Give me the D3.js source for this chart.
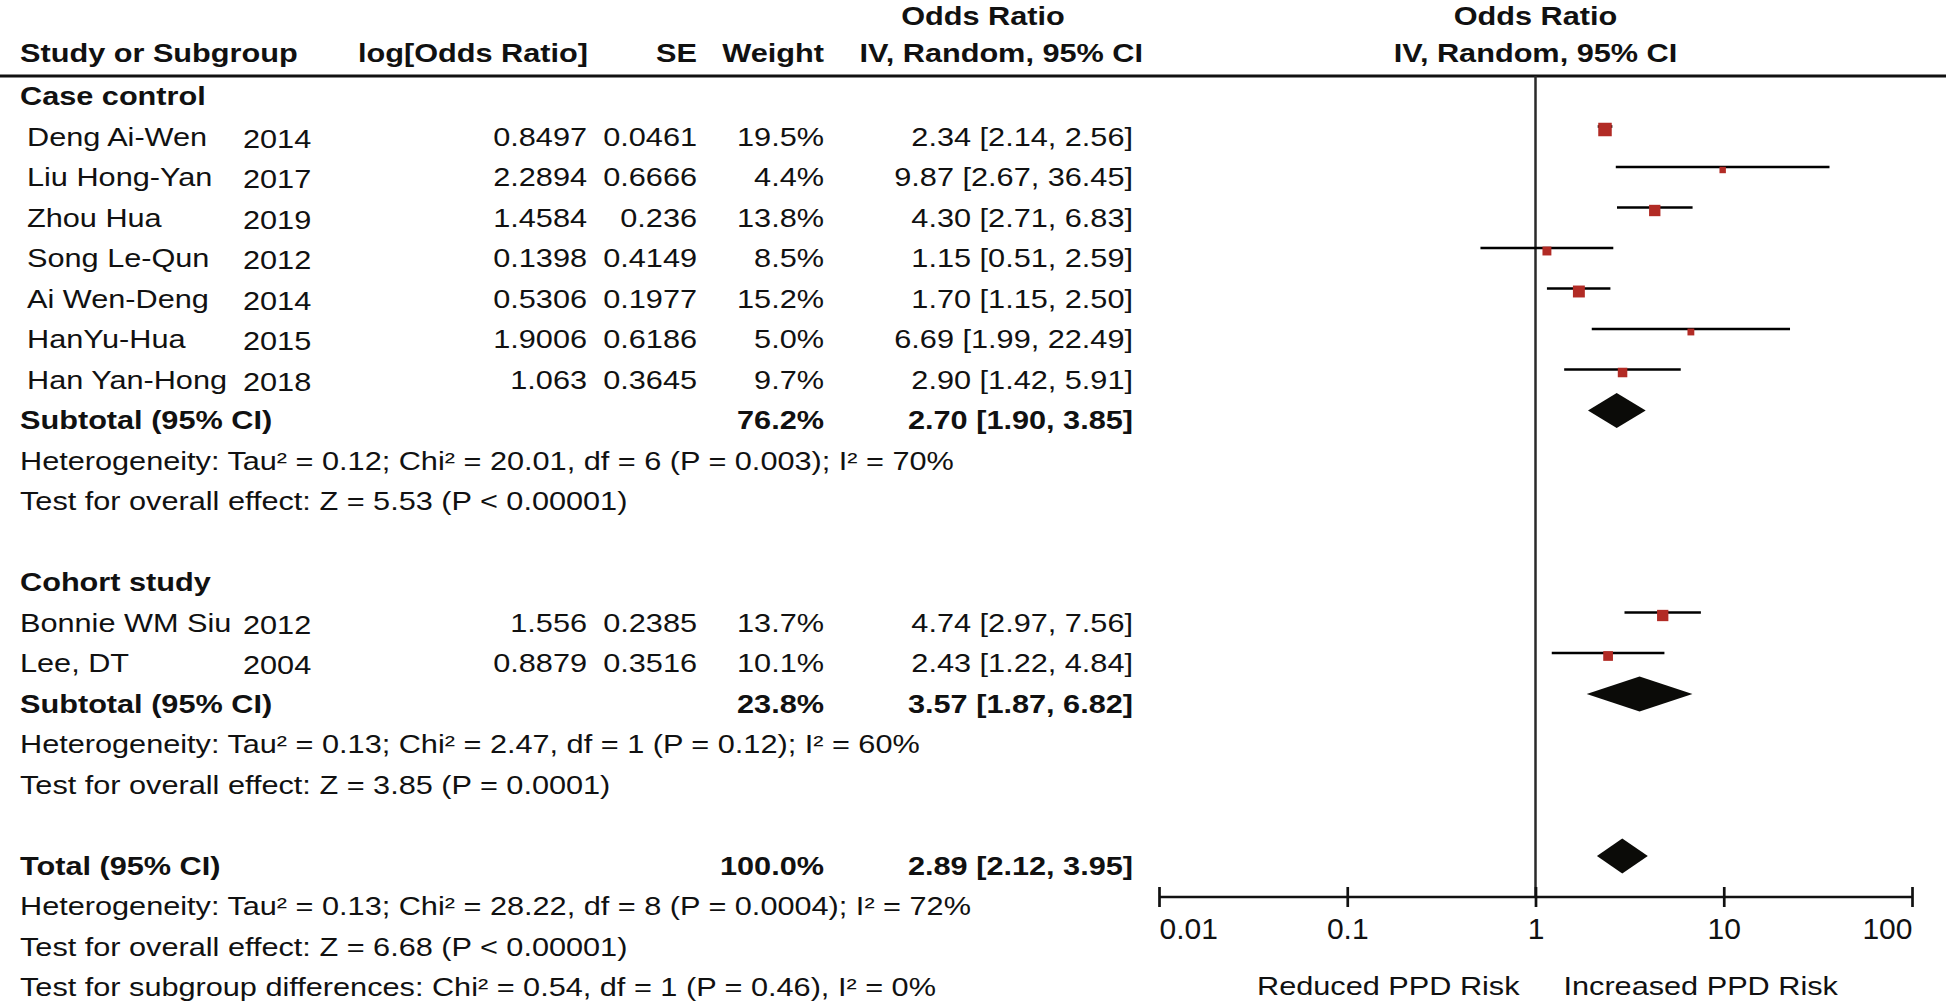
<!DOCTYPE html>
<html lang="en">
<head>
  <meta charset="utf-8">
  <script src="https://d3js.org/d3.v7.min.js"></script>
  <style>
    body {
      margin: 0;
      background: white;
    }

    text {
      font-family: "Liberation Sans", Arial, sans-serif;
      fill: #111;
    }

    .bold {
      font-weight: bold;
    }

    .axis text {
      font-size: 30px;
      fill: #111;
    }

    .axis path,
    .axis line {
      stroke: #111;
      stroke-width: 2.7;
    }
  </style>
</head>
<body>
<div id="forest"></div>
<script>
  var studies = ["Deng Ai-Wen", "Liu Hong-Yan", "Zhou Hua", "Song Le-Qun", "Ai Wen-Deng", "HanYu-Hua", "Han Yan-Hong", "Bonnie WM Siu", "Lee, DT"];
  var years = ["2014", "2017", "2019", "2012", "2014", "2015", "2018", "2012", "2004"];
  var groupOf = ["Case control", "Case control", "Case control", "Case control", "Case control", "Case control", "Case control", "Cohort study", "Cohort study"];
  var logOR = ["0.8497", "2.2894", "1.4584", "0.1398", "0.5306", "1.9006", "1.063", "1.556", "0.8879"];
  var se = ["0.0461", "0.6666", "0.236", "0.4149", "0.1977", "0.6186", "0.3645", "0.2385", "0.3516"];
  var weights = [19.5, 4.4, 13.8, 8.5, 15.2, 5.0, 9.7, 13.7, 10.1];
  var oddsRatio = [2.34, 9.87, 4.30, 1.15, 1.70, 6.69, 2.90, 4.74, 2.43];
  var lower = [2.14, 2.67, 2.71, 0.51, 1.15, 1.99, 1.42, 2.97, 1.22];
  var upper = [2.56, 36.45, 6.83, 2.59, 2.50, 22.49, 5.91, 7.56, 4.84];

  var groups = ["Case control", "Cohort study"];
  var subWeight = [76.2, 23.8];
  var subOR = [2.70, 3.57];
  var subLower = [1.90, 1.87];
  var subUpper = [3.85, 6.82];
  var subHet = ["Heterogeneity: Tau² = 0.12; Chi² = 20.01, df = 6 (P = 0.003); I² = 70%",
                "Heterogeneity: Tau² = 0.13; Chi² = 2.47, df = 1 (P = 0.12); I² = 60%"];
  var subTest = ["Test for overall effect: Z = 5.53 (P < 0.00001)",
                 "Test for overall effect: Z = 3.85 (P = 0.0001)"];

  var totalWeight = 100.0, totalOR = 2.89, totalLower = 2.12, totalUpper = 3.95;
  var totalNotes = ["Heterogeneity: Tau² = 0.13; Chi² = 28.22, df = 8 (P = 0.0004); I² = 72%",
                    "Test for overall effect: Z = 6.68 (P < 0.00001)",
                    "Test for subgroup differences: Chi² = 0.54, df = 1 (P = 0.46), I² = 0%"];

  var axisTicks = [0.01, 0.1, 1, 10, 100];
  var leftLabel = "Reduced PPD Risk", rightLabel = "Increased PPD Risk";

  var width = 1946, height = 1006;
  var SX = 1.18;      // the figure's lettering is a little wide
  var fs = 26;

  var svg = d3.select("#forest").append("svg")
          .attr("width", width)
          .attr("height", height)
          .style("background-color", "white");

  var x = d3.scaleLog().domain([0.01, 100]).range([1159, 1912]);
  var rowY = d3.scaleLinear().domain([0, 22]).range([105, 996]);
  var box = d3.scaleSqrt().domain([0, 19.5]).range([0, 13.5]);
  var f2 = d3.format(".2f"), f1 = d3.format(".1f");

  function ciText(o, l, u) {
    return f2(o) + " [" + f2(l) + ", " + f2(u) + "]";
  }

  function txt(px, py, str, anchor, bold) {
    return svg.append("text")
            .attr("transform", "translate(" + px + "," + py + ") scale(" + SX + ",1)")
            .attr("text-anchor", anchor || "start")
            .attr("class", bold ? "bold" : null)
            .style("font-size", fs + "px")
            .text(str);
  }

  // header
  txt(983, 25, "Odds Ratio", "middle", true);
  txt(x(1), 25, "Odds Ratio", "middle", true);
  txt(20, 62, "Study or Subgroup", "start", true);
  txt(588, 62, "log[Odds Ratio]", "end", true);
  txt(697, 62, "SE", "end", true);
  txt(824, 62, "Weight", "end", true);
  txt(1143, 62, "IV, Random, 95% CI", "end", true);
  txt(x(1), 62, "IV, Random, 95% CI", "middle", true);

  svg.append("line")
          .attr("x1", 0).attr("x2", width)
          .attr("y1", 76).attr("y2", 76)
          .style("stroke", "#111")
          .style("stroke-width", 3);

  // null line
  svg.append("line")
          .attr("x1", x(1)).attr("x2", x(1))
          .attr("y1", 76).attr("y2", 897)
          .style("stroke", "#2a2a2a")
          .style("stroke-width", 2.5);

  // build rows: slot numbers for each line of the table
  var studyRows = [], diamondRows = [], slot = 0;
  groups.forEach(function (g, gi) {
    txt(20, rowY(slot), g, "start", true);
    slot++;
    studies.forEach(function (s, i) {
      if (groupOf[i] !== g) return;
      studyRows.push({i: i, slot: slot, indent: gi === 0 ? 27 : 20});
      slot++;
    });
    diamondRows.push({label: "Subtotal (95% CI)", w: subWeight[gi], o: subOR[gi], l: subLower[gi], u: subUpper[gi], slot: slot});
    slot++;
    txt(20, rowY(slot), subHet[gi]);
    slot++;
    txt(20, rowY(slot), subTest[gi]);
    slot += 2;
  });
  diamondRows.push({label: "Total (95% CI)", w: totalWeight, o: totalOR, l: totalLower, u: totalUpper, slot: slot});
  totalNotes.forEach(function (n, k) {
    txt(20, rowY(slot + k + 1), n);
  });

  studyRows.forEach(function (r) {
    var y = rowY(r.slot);
    txt(r.indent, y, studies[r.i]);
    txt(243, y + 2, years[r.i]);
    txt(587, y, logOR[r.i], "end");
    txt(697, y, se[r.i], "end");
    txt(824, y, f1(weights[r.i]) + "%", "end");
    txt(1133, y, ciText(oddsRatio[r.i], lower[r.i], upper[r.i]), "end");
  });

  diamondRows.forEach(function (r) {
    var y = rowY(r.slot);
    txt(20, y, r.label, "start", true);
    txt(824, y, f1(r.w) + "%", "end", true);
    txt(1133, y, ciText(r.o, r.l, r.u), "end", true);
  });

  var plot = svg.append("g").attr("class", "plot");

  plot.selectAll(".ci")
          .data(studyRows)
          .enter().append("line")
          .attr("class", "ci")
          .attr("x1", function (d) { return x(lower[d.i]); })
          .attr("x2", function (d) { return x(upper[d.i]); })
          .attr("y1", function (d) { return rowY(d.slot) - 19; })
          .attr("y2", function (d) { return rowY(d.slot) - 19; })
          .style("stroke", "#000")
          .style("stroke-width", 2.7);

  plot.selectAll(".est")
          .data(studyRows)
          .enter().append("rect")
          .attr("class", "est")
          .attr("x", function (d) { return x(oddsRatio[d.i]) - box(weights[d.i]) / 2; })
          .attr("y", function (d) { return rowY(d.slot) - 16 - box(weights[d.i]) / 2; })
          .attr("width", function (d) { return box(weights[d.i]); })
          .attr("height", function (d) { return box(weights[d.i]); })
          .style("fill", "#b22b25");

  plot.selectAll(".pooled")
          .data(diamondRows)
          .enter().append("path")
          .attr("class", "pooled")
          .attr("d", function (d) {
            var cy = rowY(d.slot) - 18.5, h = 17.5;
            return "M" + x(d.l) + "," + cy +
                    "L" + x(d.o) + "," + (cy - h) +
                    "L" + x(d.u) + "," + cy +
                    "L" + x(d.o) + "," + (cy + h) + "Z";
          })
          .style("fill", "#0b0b08");

  var axis = svg.append("g")
          .attr("class", "axis")
          .attr("transform", "translate(0,897)")
          .call(d3.axisBottom(x)
                  .tickValues(axisTicks)
                  .tickFormat(function (d) { return String(d); })
                  .tickSizeOuter(0));

  axis.select(".domain").attr("d", "M" + x(0.01) + ",0H" + x(100));
  axis.selectAll(".tick line").attr("y1", -10).attr("y2", 10);
  axis.selectAll(".tick text")
          .attr("y", 42)
          .attr("dy", null)
          .style("font-family", "'Liberation Sans', Arial, sans-serif")
          .attr("text-anchor", function (d, i) {
            return i === 0 ? "start" : (i === axisTicks.length - 1 ? "end" : "middle");
          });

  txt(x(1) - 16, 995, leftLabel, "end");
  txt(x(1) + 28, 995, rightLabel, "start");
</script>
</body>
</html>
